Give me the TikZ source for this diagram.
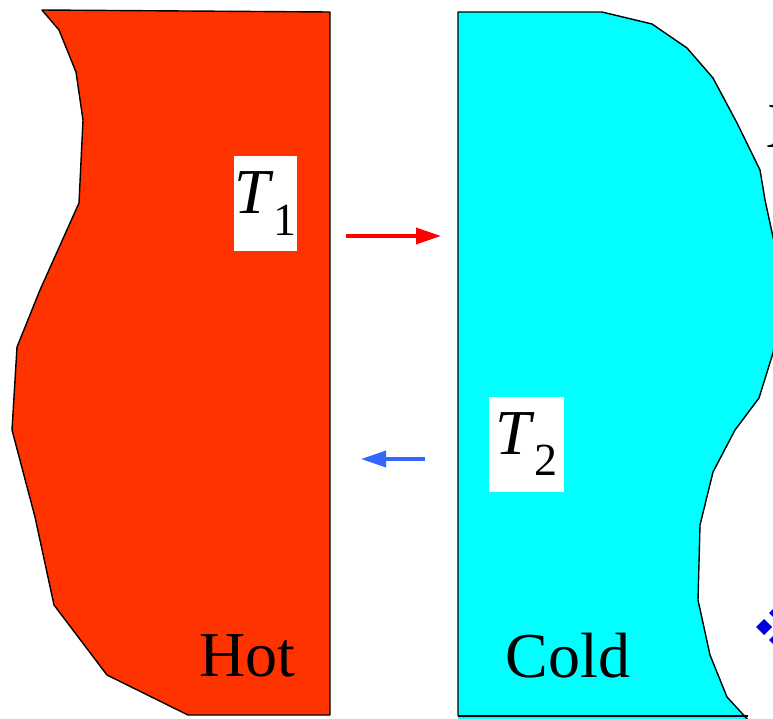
\documentclass[tikz,border=0pt]{standalone}
\usepackage{fontspec}
\setmainfont{Liberation Serif}
\usetikzlibrary{arrows.meta}
\definecolor{hotred}{RGB}{255,51,0}
\definecolor{coldcyan}{RGB}{0,255,255}
\definecolor{backblue}{RGB}{51,102,255}
\definecolor{dotblue}{RGB}{0,0,221}
\newcommand{\tlabel}[1]{\textit{T}\raisebox{-0.33em}{\fontsize{46}{46}\selectfont #1}}

\begin{document}
\begin{tikzpicture}[x=1pt,y=-1pt,
	every node/.style={font=\fontsize{64}{70}\selectfont},
	body/.style={draw=black, line width=1.4pt, line join=round},
	tempbox/.style={fill=white, inner sep=0pt, minimum width=63pt, minimum height=95pt},
	flow/.style={line width=3.5pt, -{Triangle[length=25pt,width=16pt]}}]
	\useasboundingbox (0,0) rectangle (773,718);
	\clip (0,0) rectangle (773,718);
	% hot body
	\fill[hotred] (42,10) -- (59,30) -- (76,72) -- (83,120) -- (79,203) -- (40,290) -- (17,347) -- (12,430) -- (35,517) -- (54,605) -- (107,675) -- (188,715) -- (330,715) -- (330,12) -- cycle;
	\draw[body] (42,10) -- (59,30) -- (76,72) -- (83,120) -- (79,203) -- (40,290) -- (17,347) -- (12,430) -- (35,517) -- (54,605) -- (107,675) -- (188,715) -- (330,715) -- (330,12) -- cycle;
	% cold body
	\fill[coldcyan] (458,12) -- (602,12) -- (652,24) -- (687,48) -- (713,78) -- (737,123) -- (760,170) -- (765,200) -- (778,260) -- (779,320) -- (773,353) -- (759,398) -- (735,430) -- (713,472) -- (700,525) -- (698,600) -- (710,655) -- (727,697) -- (750,722) -- (750,740) -- (458,740) -- cycle;
	\draw[body] (458,716) -- (458,12) -- (602,12) -- (652,24) -- (687,48) -- (713,78) -- (737,123) -- (760,170) -- (765,200) -- (778,260) -- (779,320) -- (773,353) -- (759,398) -- (735,430) -- (713,472) -- (700,525) -- (698,600) -- (710,655) -- (727,697) -- (750,722);
	\draw[body] (458,716) -- (748,716);
	% labels
	\node[tempbox] (t1) at (265.5,203.5) {\tlabel{1}};
	\node[tempbox, minimum width=75pt] (t2) at (526.5,444) {\tlabel{2}};
	\node (hot) at (247,656) {Hot};
	\node (cold) at (568,656) {Cold};
	% heat flow
	\coordinate (q1s) at (346,236);
	\coordinate (q1e) at (441,236);
	\coordinate (q2s) at (425,459);
	\coordinate (q2e) at (361,459);
	\draw[flow, red] (q1s) -- (q1e);
	\draw[flow, backblue] (q2s) -- (q2e);
	% cut-off items at right edge
	\node[anchor=west, inner sep=0pt] (xr) at (766,127) {X};
	\foreach \dx/\dy in {764/627, 777/613, 777/640}
		\fill[dotblue] (\dx,\dy-8) -- (\dx+8,\dy) -- (\dx,\dy+8) -- (\dx-8,\dy) -- cycle;
\end{tikzpicture}
\end{document}
